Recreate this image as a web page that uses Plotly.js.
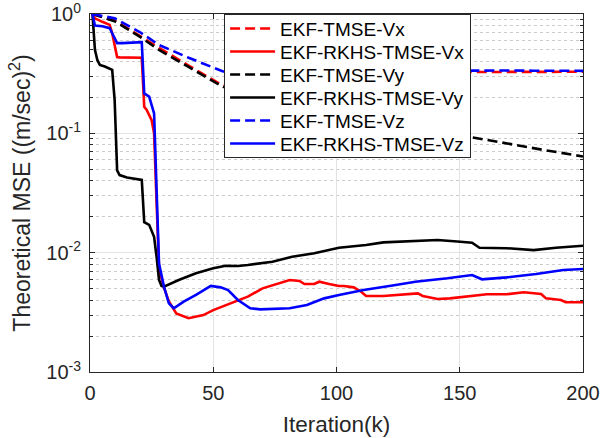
<!DOCTYPE html>
<html>
<head>
<meta charset="utf-8">
<script src="https://cdn.plot.ly/plotly-3.0.1.min.js"></script>
<style>
  html, body { margin: 0; padding: 0; background: #ffffff; }
  #chart { width: 600px; height: 438px; }
</style>
</head>
<body>
<div id="chart"></div>
<script>
// ---- Data ----
const seriesNames = ['EKF-TMSE-Vx', 'EKF-RKHS-TMSE-Vx', 'EKF-TMSE-Vy', 'EKF-RKHS-TMSE-Vy', 'EKF-TMSE-Vz', 'EKF-RKHS-TMSE-Vz'];

const tmseVxK = [1, 10, 20, 28, 40, 54, 60, 80, 100, 154, 160, 170, 180, 190, 200];
const tmseVx  = [1.0, 0.88, 0.66, 0.52, 0.37, 0.25, 0.24, 0.30, 0.325, 0.328, 0.326, 0.329, 0.327, 0.329, 0.328];

const rkhsVxK = [1, 2, 5, 8, 9, 11, 12, 20, 21, 22, 23, 25, 26, 27, 28, 29, 30, 32, 35, 40, 46, 50, 57, 64, 70, 77, 81, 85, 87, 91, 93, 97, 101, 103, 107, 110, 112, 119, 124, 133, 135, 141, 146, 155, 161, 169, 176, 183, 185, 191, 193, 200];
const rkhsVx  = [1.0, 0.92, 0.86, 0.81, 0.69, 0.436, 0.433, 0.433, 0.43, 0.167, 0.157, 0.129, 0.10, 0.027, 0.0075, 0.0061, 0.0051, 0.0039, 0.0031, 0.00282, 0.0030, 0.0033, 0.00377, 0.00428, 0.00502, 0.00553, 0.0059, 0.00579, 0.00546, 0.00546, 0.00571, 0.00546, 0.00526, 0.00526, 0.00512, 0.00471, 0.00434, 0.00434, 0.00442, 0.00456, 0.00434, 0.00409, 0.00414, 0.00434, 0.00448, 0.00448, 0.00466, 0.00451, 0.00414, 0.00401, 0.00384, 0.00384];

const tmseVyK = [1, 10, 20, 28, 40, 54, 60, 80, 100, 120, 140, 154, 170, 185, 200];
const tmseVy  = [1.0, 0.87, 0.65, 0.50, 0.36, 0.245, 0.229, 0.182, 0.148, 0.123, 0.105, 0.093, 0.081, 0.072, 0.064];

const rkhsVyK = [1, 2, 3, 4, 6, 9, 10, 11, 12, 15, 21, 22, 24, 26, 27, 28, 29, 30, 36, 43, 50, 55, 60, 64, 74, 82, 91, 96, 101, 105, 112, 119, 132, 141, 149, 155, 158, 169, 180, 189, 200];
const rkhsVy  = [1.0, 0.50, 0.41, 0.374, 0.363, 0.34, 0.19, 0.049, 0.0447, 0.0427, 0.0407, 0.018, 0.0171, 0.0136, 0.00925, 0.0059, 0.00526, 0.00519, 0.0059, 0.00671, 0.0074, 0.00778, 0.00773, 0.00788, 0.0084, 0.00925, 0.00988, 0.0105, 0.011, 0.0112, 0.0116, 0.0122, 0.0126, 0.01277, 0.0124, 0.0121, 0.011, 0.0109, 0.0105, 0.011, 0.01143];

const tmseVzK = [1, 10, 20, 28, 40, 54, 60, 100, 154, 160, 170, 180, 190, 200];
const tmseVz  = [1.0, 0.92, 0.71, 0.55, 0.43, 0.33, 0.332, 0.334, 0.335, 0.34, 0.336, 0.335, 0.334, 0.334];

const rkhsVzK = [1, 2, 5, 8, 9, 11, 13, 21, 22, 24, 26, 27, 28, 30, 32, 34, 38, 43, 49, 53, 56, 60, 65, 69, 81, 88, 95, 101, 111, 124, 132, 145, 155, 159, 169, 181, 192, 200];
const rkhsVz  = [1.0, 0.80, 0.79, 0.76, 0.69, 0.57, 0.57, 0.58, 0.216, 0.203, 0.147, 0.04, 0.0081, 0.0052, 0.00376, 0.00342, 0.00388, 0.00442, 0.00526, 0.00512, 0.00486, 0.00401, 0.00342, 0.00335, 0.00342, 0.00364, 0.00414, 0.00442, 0.00486, 0.00536, 0.00571, 0.0061, 0.0065, 0.00598, 0.00621, 0.00662, 0.00716, 0.0073];

const xTickVals = [0, 50, 100, 150, 200];
const yTickVals = [0.001, 0.01, 0.1, 1];
const yTickText = ['10<sup>-3</sup>', '10<sup>-2</sup>', '10<sup>-1</sup>', '10<sup>0</sup>'];

// ---- Styling ----
const FONT = 'Liberation Sans, Arial, Helvetica, sans-serif';
const INK = '#262626';
const RED = '#ff0000', BLACK = '#000000', BLUE = '#0000ff';

const xs = [tmseVxK, rkhsVxK, tmseVyK, rkhsVyK, tmseVzK, rkhsVzK];
const ys = [tmseVx, rkhsVx, tmseVy, rkhsVy, tmseVz, rkhsVz];
const colors = [RED, RED, BLACK, BLACK, BLUE, BLUE];
const dashes = ['10px,5px', 'solid', '10px,5px', 'solid', '10px,5px', 'solid'];

const traces = seriesNames.map((name, i) => ({
  type: 'scatter',
  mode: 'lines',
  name: name,
  x: xs[i],
  y: ys[i],
  line: { color: colors[i], width: 2.6, dash: dashes[i] }
}));

// minor log grid positions 2..9 x each decade
const minorVals = [];
for (let e = -3; e < 0; e++) {
  for (let m = 2; m <= 9; m++) minorVals.push(m * Math.pow(10, e));
}

const layout = {
  width: 600,
  height: 438,
  margin: { l: 90, r: 17, t: 14, b: 66 },
  paper_bgcolor: '#ffffff',
  plot_bgcolor: '#ffffff',
  font: { family: FONT, size: 20, color: INK },
  showlegend: true,
  legend: {
    x: 0.272, y: 1, xanchor: 'left', yanchor: 'top',
    bgcolor: '#ffffff', bordercolor: INK, borderwidth: 1,
    font: { family: FONT, size: 19, color: '#000000' },
    itemwidth: 45,
    tracegroupgap: 0
  },
  xaxis: {
    range: [0, 200],
    tickmode: 'array',
    tickvals: xTickVals,
    ticks: 'inside', ticklen: 5, tickcolor: INK, tickwidth: 1,
    showline: true, linecolor: INK, linewidth: 1, mirror: 'allticks',
    showgrid: true, gridcolor: '#e3e3e3', gridwidth: 1,
    zeroline: false,
    tickfont: { family: FONT, size: 20, color: INK },
    ticklabelstandoff: 3,
    ticklabeloverflow: 'allow',
    title: { text: 'Iteration(k)', font: { family: FONT, size: 22.5, color: INK }, standoff: 13 }
  },
  yaxis: {
    type: 'log',
    range: [-3, 0],
    tickmode: 'array',
    tickvals: yTickVals,
    ticktext: yTickText,
    ticks: 'inside', ticklen: 5, tickcolor: INK, tickwidth: 1,
    showline: true, linecolor: INK, linewidth: 1, mirror: 'allticks',
    showgrid: true, gridcolor: '#e3e3e3', gridwidth: 1,
    zeroline: false,
    tickfont: { family: FONT, size: 20, color: INK },
    ticklabelstandoff: 4,
    ticklabeloverflow: 'allow',
    minor: {
      tickmode: 'array',
      tickvals: minorVals,
      ticks: 'inside', ticklen: 3, tickcolor: INK, tickwidth: 1,
      showgrid: true, gridcolor: '#cccccc', griddash: 'dot', gridwidth: 1
    },
    title: { text: 'Theoretical MSE ((m/sec)<sup>2</sup>)', font: { family: FONT, size: 23, color: INK }, standoff: 9 }
  }
};

Plotly.newPlot('chart', traces, layout, { displayModeBar: false, staticPlot: true }).then(gd => {
  // tighten legend row spacing to match the reference
  const ROW = 23;
  const FIRST = 14.5;
  const legend = gd.querySelector('.legend');
  if (!legend) return;
  const items = legend.querySelectorAll('.traces');
  items.forEach((g, i) => {
    const m = /translate\(([-\d.]+)\s*,\s*([-\d.]+)\)/.exec(g.getAttribute('transform') || '');
    if (!m) return;
    g.setAttribute('transform', 'translate(' + m[1] + ',' + (FIRST + i * ROW) + ')');
  });
  const bg = legend.querySelector('.bg');
  if (bg) bg.setAttribute('height', FIRST + (items.length - 1) * ROW + 13);
});
</script>
</body>
</html>
